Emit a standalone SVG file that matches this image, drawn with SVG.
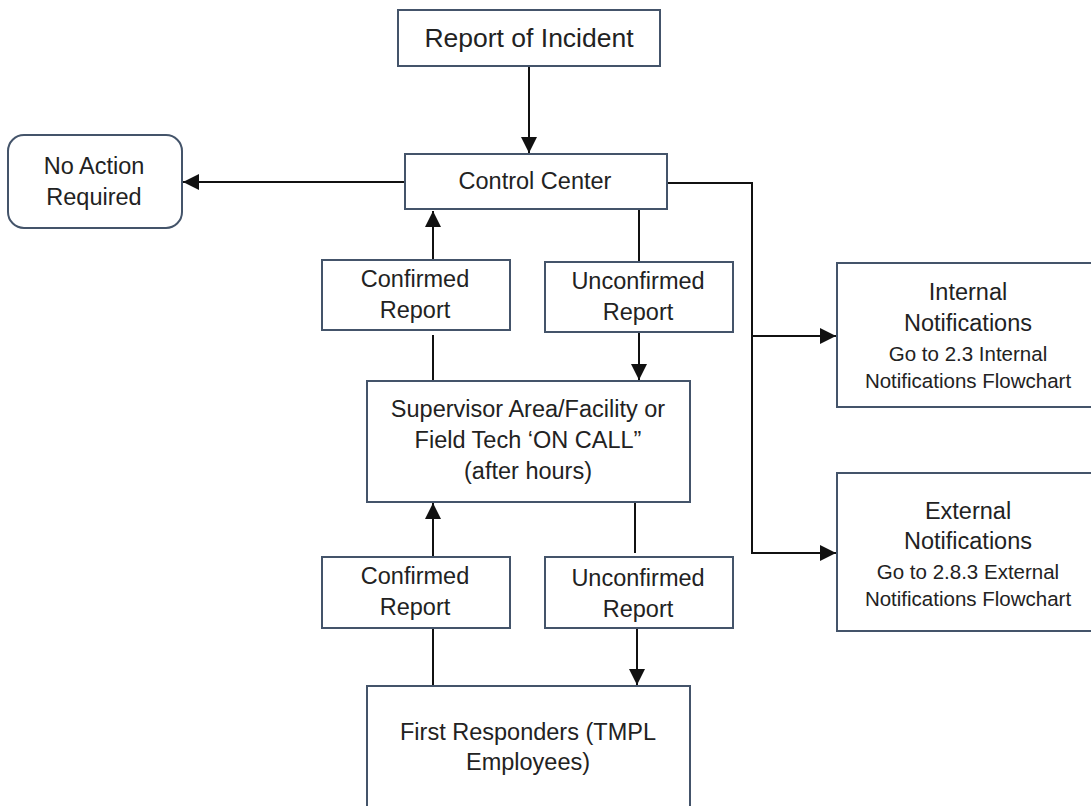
<svg xmlns="http://www.w3.org/2000/svg" width="1091" height="806" viewBox="0 0 1091 806">
<style>
.box{fill:#fff;stroke:#44546a;stroke-width:2}
.t{font-family:"Liberation Sans",Arial,sans-serif;font-size:23.5px;fill:#222;text-anchor:middle}
.big{font-size:26.5px}
.sm{font-size:20.5px}
.c{fill:none;stroke:#111;stroke-width:2}
</style>
<defs>
<marker id="ah" markerUnits="userSpaceOnUse" markerWidth="16" markerHeight="16" viewBox="0 0 16 16" refX="16" refY="8" orient="auto">
<path d="M0,0 L16,8 L0,16 Z" fill="#111"/>
</marker>
</defs>
<rect width="1091" height="806" fill="#fff"/>
<g id="connectors">
<line class="c" x1="529" y1="66" x2="529" y2="153" marker-end="url(#ah)"/>
<line class="c" x1="405" y1="182" x2="183" y2="182" marker-end="url(#ah)"/>
<path class="c" d="M667 183 H752 V553 H836" marker-end="url(#ah)"/>
<path class="c" d="M752 336 H836" marker-end="url(#ah)"/>
<line class="c" x1="433" y1="260" x2="433" y2="211" marker-end="url(#ah)"/>
<line class="c" x1="433" y1="381" x2="433" y2="335"/>
<line class="c" x1="639" y1="209" x2="639" y2="262"/>
<line class="c" x1="639" y1="332" x2="639" y2="380" marker-end="url(#ah)"/>
<line class="c" x1="433" y1="557" x2="433" y2="503" marker-end="url(#ah)"/>
<line class="c" x1="433" y1="686" x2="433" y2="628"/>
<line class="c" x1="635" y1="502" x2="635" y2="553"/>
<line class="c" x1="637" y1="628" x2="637" y2="685" marker-end="url(#ah)"/>
</g>
<g id="report">
<rect class="box" x="398" y="10" width="262" height="56"/>
<text class="t big" x="529" y="47">Report of Incident</text>
</g>
<g id="control">
<rect class="box" x="405" y="154" width="262" height="55"/>
<text class="t" x="535" y="189">Control Center</text>
</g>
<g id="noaction">
<rect class="box" x="8" y="135" width="174" height="93" rx="16"/>
<text class="t" x="94" y="174">No Action</text>
<text class="t" x="94" y="205">Required</text>
</g>
<g id="confirmed1">
<rect class="box" x="322" y="260" width="188" height="70"/>
<text class="t" x="415" y="287">Confirmed</text>
<text class="t" x="415" y="318">Report</text>
</g>
<g id="unconfirmed1">
<rect class="box" x="545" y="262" width="188" height="70"/>
<text class="t" x="638" y="289">Unconfirmed</text>
<text class="t" x="638" y="320">Report</text>
</g>
<g id="supervisor">
<rect class="box" x="367" y="381" width="323" height="121"/>
<text class="t" x="528" y="417">Supervisor Area/Facility or</text>
<text class="t" x="528" y="448">Field Tech ‘ON CALL”</text>
<text class="t" x="528" y="479">(after hours)</text>
</g>
<g id="confirmed2">
<rect class="box" x="322" y="557" width="188" height="71"/>
<text class="t" x="415" y="584">Confirmed</text>
<text class="t" x="415" y="615">Report</text>
</g>
<g id="unconfirmed2">
<rect class="box" x="545" y="557" width="188" height="71"/>
<text class="t" x="638" y="586">Unconfirmed</text>
<text class="t" x="638" y="617">Report</text>
</g>
<g id="firstresponders">
<rect class="box" x="367" y="686" width="323" height="130"/>
<text class="t" x="528" y="740">First Responders (TMPL</text>
<text class="t" x="528" y="770">Employees)</text>
</g>
<g id="internal">
<rect class="box" x="837" y="263" width="270" height="144"/>
<text class="t" x="968" y="300">Internal</text>
<text class="t" x="968" y="331">Notifications</text>
<text class="t sm" x="968" y="361">Go to 2.3 Internal</text>
<text class="t sm" x="968" y="388">Notifications Flowchart</text>
</g>
<g id="external">
<rect class="box" x="837" y="473" width="270" height="158"/>
<text class="t" x="968" y="519">External</text>
<text class="t" x="968" y="549">Notifications</text>
<text class="t sm" x="968" y="579">Go to 2.8.3 External</text>
<text class="t sm" x="968" y="606">Notifications Flowchart</text>
</g>
</svg>
